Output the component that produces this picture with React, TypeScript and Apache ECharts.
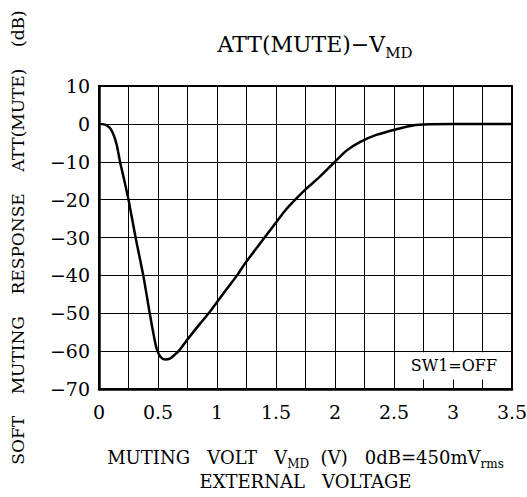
import React, { useEffect, useRef } from "react";
import * as echarts from "echarts";

const voltage = [0, 0.05, 0.09, 0.12, 0.15, 0.178, 0.215, 0.25, 0.31, 0.375, 0.43, 0.465, 0.49, 0.52, 0.56, 0.6, 0.64, 0.68, 0.76, 0.85, 0.94, 1.065, 1.17, 1.234, 1.36, 1.489, 1.58, 1.673, 1.757, 1.87, 2.0, 2.1, 2.21, 2.35, 2.535, 2.66, 2.8, 3.0, 3.25, 3.5];
const attenuation = [0, -0.2, -1.0, -2.6, -5.5, -10, -15, -20, -30, -40, -50, -56, -59.5, -61.5, -62.2, -62.0, -61.0, -59.8, -56.5, -53, -49.6, -44.3, -40, -37, -31.8, -26.5, -22.8, -19.7, -17.1, -14, -10, -7, -4.8, -2.9, -1.3, -0.4, -0.1, 0, 0, 0];

const FONT = "DejaVu Serif";

export default function App() {
  const ref = useRef<HTMLDivElement>(null);
  useEffect(() => {
    if (!ref.current) return;
    const chart = echarts.init(ref.current, undefined, { renderer: "svg" });
    const data = voltage.map((v, i) => [v, attenuation[i]]);
    chart.setOption({
      animation: false,
      backgroundColor: "#fff",
      title: {
        text: "{a|ATT(MUTE)−V}{s|MD}",
        left: 310,
        top: 22,
        textAlign: "center",
        textStyle: {
          rich: {
            a: { fontFamily: FONT, fontSize: 22, fontWeight: "normal", color: "#000", lineHeight: 28, verticalAlign: "bottom" },
            s: { fontFamily: FONT, fontSize: 15, fontWeight: "normal", color: "#000", lineHeight: 28, verticalAlign: "bottom", padding: [0, 0, -5, 0] },
          },
        },
      },
      grid: {
        left: 99,
        right: 15,
        top: 86,
        bottom: 108,
        show: true,
        borderColor: "#000",
        borderWidth: 2,
        containLabel: false,
        outerBoundsMode: "none",
      },
      xAxis: {
        type: "value",
        min: 0,
        max: 3.5,
        interval: 0.5,
        name: "{a|MUTING   VOLT   V}{s|MD}{a|  (V)   0dB=450mV}{s|rms}\n{a|EXTERNAL   VOLTAGE}",
        nameLocation: "middle",
        nameGap: 53,
        nameTextStyle: {
          rich: {
            a: { fontFamily: FONT, fontSize: 18, color: "#000", lineHeight: 24, verticalAlign: "bottom" },
            s: { fontFamily: FONT, fontSize: 12, color: "#000", lineHeight: 24, verticalAlign: "bottom", padding: [0, 0, -4, 0] },
          },
        },
        axisLine: { show: true, onZero: false, lineStyle: { color: "#000", width: 2.5 } },
        axisTick: { show: false },
        minorTick: { show: false, splitNumber: 2 },
        splitLine: { show: true, lineStyle: { color: "#000", width: 1 } },
        minorSplitLine: { show: true, lineStyle: { color: "#000", width: 1 } },
        axisLabel: {
          fontFamily: FONT,
          fontSize: 19,
          color: "#000",
          margin: 13,
          formatter: (v: number) => String(v),
        },
      },
      yAxis: {
        type: "value",
        min: -70,
        max: 10,
        interval: 10,
        name: "SOFT    MUTING    RESPONSE    ATT(MUTE)    (dB)",
        nameLocation: "middle",
        nameGap: 73,
        nameTextStyle: { fontFamily: FONT, fontSize: 17, color: "#000" },
        axisLine: { show: true, onZero: false, lineStyle: { color: "#000", width: 2.5 } },
        axisTick: { show: false },
        splitLine: { show: true, lineStyle: { color: "#000", width: 1 } },
        axisLabel: {
          fontFamily: FONT,
          fontSize: 19,
          color: "#000",
          margin: 9,
          formatter: (v: number) => (v < 0 ? "−" + Math.abs(v) : String(v)),
        },
      },
      series: [
        {
          type: "line",
          data,
          smooth: 0.25,
          symbol: "none",
          lineStyle: { color: "#000", width: 2.5 },
          markArea: {
            silent: true,
            itemStyle: { color: "#fff" },
            label: {
              show: true,
              position: "inside",
              fontFamily: FONT,
              fontSize: 16,
              color: "#000",
            },
            data: [[{ name: "SW1=OFF", coord: [2.53, -60.3] }, { coord: [3.485, -67.5] }]],
          },
        },
      ],
    });
    return () => chart.dispose();
  }, []);
  return <div ref={ref} style={{ position: "fixed", left: 0, top: 0, width: 527, height: 497 }} />;
}
